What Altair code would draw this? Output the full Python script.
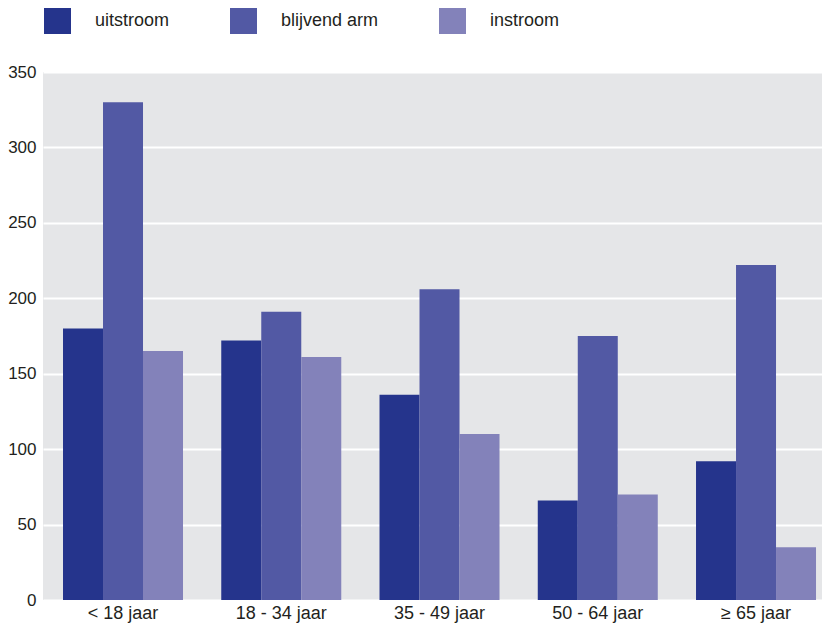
import altair as alt
import pandas as pd

groups = ["< 18 jaar", "18 - 34 jaar", "35 - 49 jaar", "50 - 64 jaar", "≥ 65 jaar"]
series = ["uitstroom", "blijvend arm", "instroom"]
uitstroom = [180, 172, 136, 66, 92]
blijvend_arm = [330, 191, 206, 175, 222]
instroom = [165, 161, 110, 70, 35]
colors = ["#25348C", "#5259A4", "#8382BA"]
y_ticks = [0, 50, 100, 150, 200, 250, 300, 350]

rows = []
for name, vals in zip(series, [uitstroom, blijvend_arm, instroom]):
    for g, v in zip(groups, vals):
        rows.append({"groep": g, "reeks": name, "waarde": v})
df = pd.DataFrame(rows)

FONT = "Liberation Sans"

chart = alt.Chart(df).mark_bar(opacity=1).encode(
    x=alt.X("groep:N", sort=groups,
            scale=alt.Scale(paddingInner=0.2417, paddingOuter=0.0821, align=0.77),
            axis=alt.Axis(title=None, labelAngle=0, ticks=False, domain=False,
                          labelPadding=4, labelFontSize=18, labelFont=FONT,
                          labelColor="#231F20", grid=False)),
    xOffset=alt.XOffset("reeks:N", sort=series,
                        scale=alt.Scale(paddingInner=0, paddingOuter=0)),
    y=alt.Y("waarde:Q", scale=alt.Scale(domain=[0, 350], nice=False),
            axis=alt.Axis(title=None, values=y_ticks, ticks=False, domain=False,
                          labelPadding=7, labelFontSize=17, labelFont=FONT,
                          labelColor="#231F20", grid=True, gridColor="#FFFFFF",
                          gridWidth=2, gridOpacity=1)),
    color=alt.Color("reeks:N", sort=series,
                    scale=alt.Scale(domain=series, range=colors),
                    legend=alt.Legend(title=None, orient="none", direction="horizontal",
                                      legendX=1, legendY=-65, padding=0,
                                      symbolType="square", symbolSize=729,
                                      symbolStrokeWidth=0, symbolOpacity=1,
                                      labelFontSize=18, labelFont=FONT,
                                      labelColor="#231F20", labelOffset=24,
                                      columnPadding=60)),
).properties(
    width=779, height=528,
    autosize=alt.AutoSizeParams(type="none"),
    padding={"left": 35, "top": 64, "right": 0, "bottom": 23},
).configure(
    background="#FFFFFF"
).configure_view(
    fill="#E5E6E8", strokeWidth=0, stroke="transparent"
)

chart.save("out.html", embed_options={"renderer": "svg", "actions": False})
